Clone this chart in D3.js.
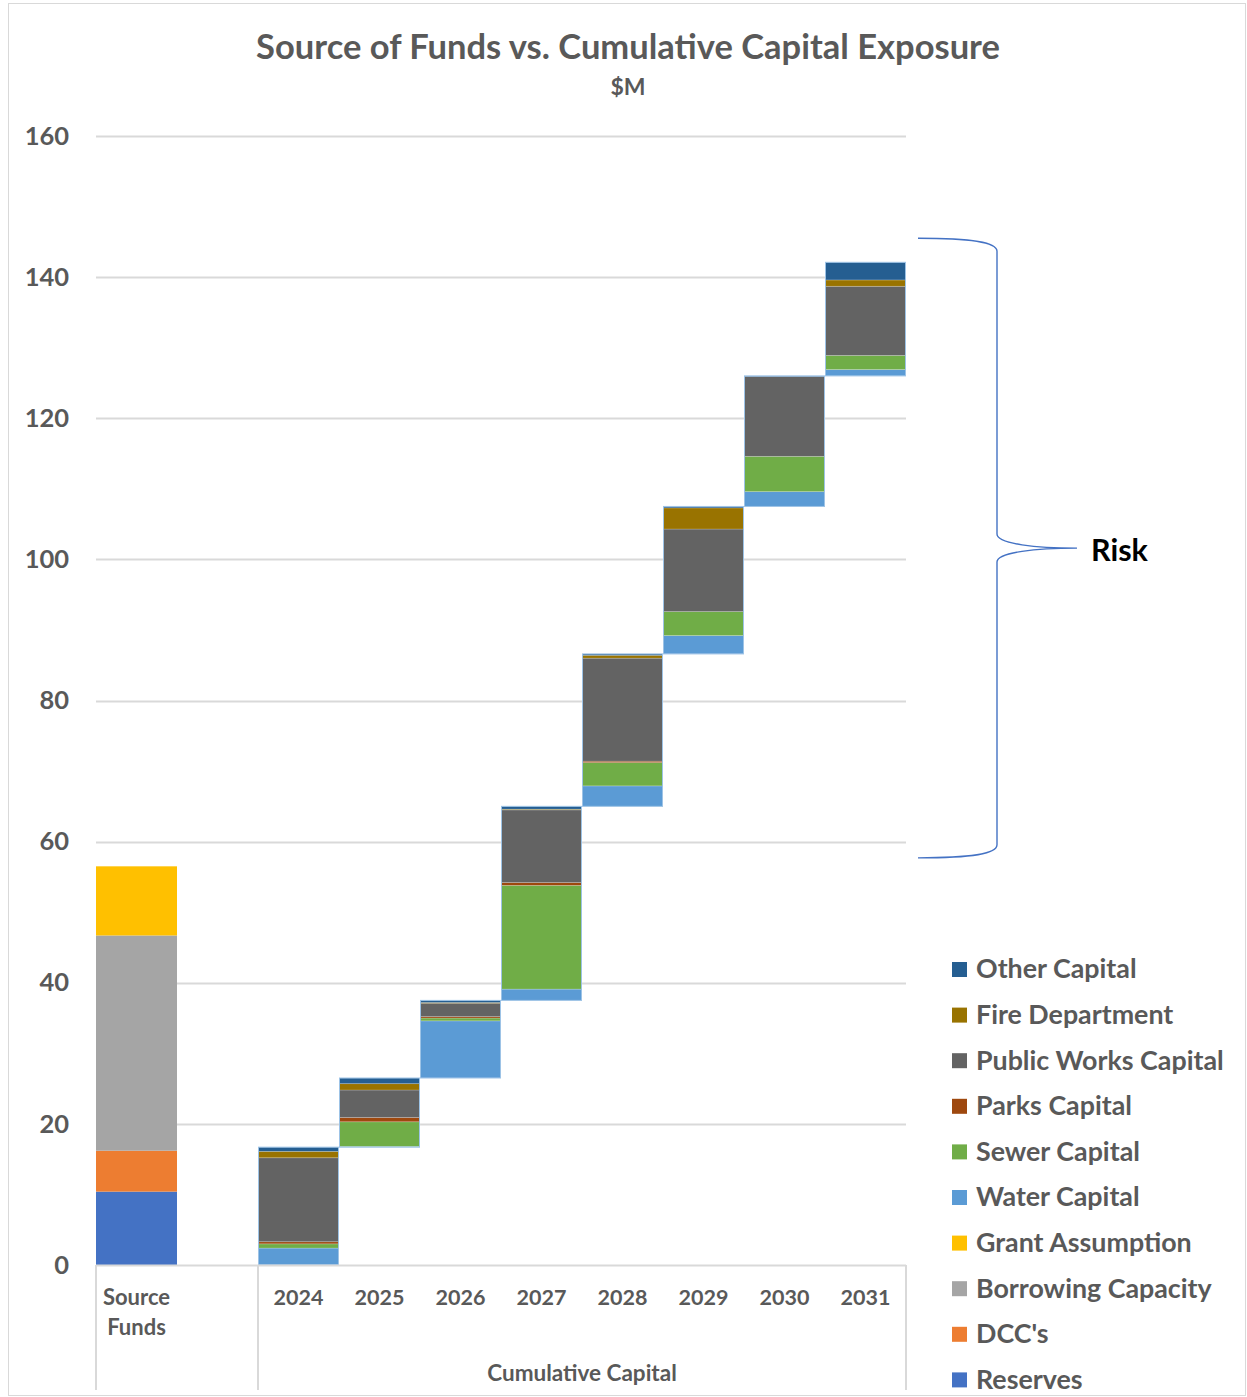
<!DOCTYPE html>
<html>
<head>
<meta charset="utf-8">
<script src="https://cdn.jsdelivr.net/npm/d3@7"></script>
<style>
  html, body { margin: 0; padding: 0; background: #fff; }
  svg { display: block; font-family: Lato, "Open Sans", sans-serif; }
</style>
</head>
<body>
<svg id="chart" width="1247" height="1397"></svg>
<script>
// Category slots along the x axis (the blank slot separates the two groups)
const categories = ["Source Funds", "", "2024", "2025", "2026", "2027", "2028", "2029", "2030", "2031"];
const years = ["2024", "2025", "2026", "2027", "2028", "2029", "2030", "2031"];

// Source of funds ($M), stacked bottom to top
const fundSeries = ["Reserves", "DCC's", "Borrowing Capacity", "Grant Assumption"];
const fundValues = [10.4, 5.8, 30.5, 9.8];

// Capital spending added in each year ($M), stacked bottom to top
const capitalSeries = ["Water Capital", "Sewer Capital", "Parks Capital", "Public Works Capital", "Fire Department", "Other Capital"];
const waterCapital       = [2.4, 0.1, 8.1, 1.6, 2.9, 2.6, 2.1, 0.9];
const sewerCapital       = [0.6, 3.5, 0.4, 14.7, 3.3, 3.4, 5.0, 2.0];
const parksCapital       = [0.3, 0.6, 0.2, 0.4, 0.2, 0.0, 0.0, 0.0];
const publicWorksCapital = [11.9, 3.9, 1.9, 10.3, 14.6, 11.7, 11.3, 9.8];
const fireDepartment     = [0.9, 0.9, 0.1, 0.1, 0.4, 3.0, 0.0, 0.9];
const otherCapital       = [0.6, 0.8, 0.3, 0.4, 0.2, 0.2, 0.1, 2.5];

const yTicks = [0, 20, 40, 60, 80, 100, 120, 140, 160];

// Legend order, top to bottom
const legendItems = ["Other Capital", "Fire Department", "Public Works Capital", "Parks Capital",
  "Sewer Capital", "Water Capital", "Grant Assumption", "Borrowing Capacity", "DCC's", "Reserves"];

const colors = {
  "Reserves": "#4472C4",
  "DCC's": "#ED7D31",
  "Borrowing Capacity": "#A5A5A5",
  "Grant Assumption": "#FFC000",
  "Water Capital": "#5B9BD5",
  "Sewer Capital": "#70AD47",
  "Parks Capital": "#9E480E",
  "Public Works Capital": "#636363",
  "Fire Department": "#997300",
  "Other Capital": "#255E91"
};

const textColor = "#595959";
const gridColor = "#D9D9D9";

const svg = d3.select("#chart");
const plot = { left: 96, right: 906, top: 136, bottom: 1265 };

const x = d3.scaleBand().domain(categories).range([plot.left, plot.right]).padding(0);
const y = d3.scaleLinear().domain([0, 160]).range([plot.bottom, plot.top]);

// outer chart frame
svg.append("rect")
  .attr("x", 8.5).attr("y", 3.5).attr("width", 1237).attr("height", 1392)
  .attr("fill", "none").attr("stroke", gridColor).attr("stroke-width", 1);

// title
svg.append("text")
  .attr("x", 628).attr("y", 59)
  .attr("text-anchor", "middle")
  .attr("font-size", 34.5).attr("font-weight", 700).attr("fill", textColor)
  .text("Source of Funds vs. Cumulative Capital Exposure");
svg.append("text")
  .attr("x", 628).attr("y", 95)
  .attr("text-anchor", "middle")
  .attr("font-size", 23).attr("font-weight", 700).attr("fill", textColor)
  .text("$M");

// horizontal gridlines
svg.append("g")
  .selectAll("line")
  .data(yTicks.filter(d => d > 0))
  .join("line")
  .attr("x1", plot.left).attr("x2", plot.right)
  .attr("y1", d => Math.round(y(d)) + 0.5).attr("y2", d => Math.round(y(d)) + 0.5)
  .attr("stroke", gridColor).attr("stroke-width", 2);

// y axis labels
const yAxis = d3.axisLeft(y).tickValues(yTicks).tickSize(0).tickPadding(0);
const yg = svg.append("g").attr("transform", `translate(${69},0)`).call(yAxis);
yg.select(".domain").remove();
yg.selectAll("text")
  .attr("font-size", 25.5).attr("font-weight", 700).attr("fill", textColor)
  .attr("font-family", "Lato, 'Open Sans', sans-serif");

// source of funds stack
const fundRow = {};
fundSeries.forEach((k, i) => fundRow[k] = fundValues[i]);
const fundStack = d3.stack().keys(fundSeries)([fundRow]);
svg.append("g")
  .selectAll("rect")
  .data(fundStack)
  .join("rect")
  .attr("x", x("Source Funds"))
  .attr("width", x.bandwidth())
  .attr("y", d => y(d[0][1]))
  .attr("height", d => y(d[0][0]) - y(d[0][1]))
  .attr("fill", d => colors[d.key]);

// capital waterfall: each year starts where the previous cumulative total ends
const capitalArrays = [waterCapital, sewerCapital, parksCapital, publicWorksCapital, fireDepartment, otherCapital];
let running = 0;
const capitalRows = years.map((yr, i) => {
  const row = { year: yr, base: running };
  capitalSeries.forEach((k, j) => row[k] = capitalArrays[j][i]);
  running += d3.sum(capitalArrays, a => a[i]);
  row.total = running;
  return row;
});

const capitalStack = d3.stack().keys(capitalSeries)(capitalRows);
const capG = svg.append("g");
capitalStack.forEach(series => {
  capG.append("g")
    .selectAll("rect")
    .data(series)
    .join("rect")
    .attr("x", d => x(d.data.year))
    .attr("width", x.bandwidth())
    .attr("y", d => y(d.data.base + d[1]))
    .attr("height", d => Math.max(0, y(d.data.base + d[0]) - y(d.data.base + d[1])))
    .attr("fill", colors[series.key])
    .attr("stroke", "rgba(255,255,255,0.25)")
    .attr("stroke-width", 0.8);
});

// light outline around each year's column
svg.append("g")
  .selectAll("rect")
  .data(capitalRows)
  .join("rect")
  .attr("x", d => x(d.year) + 0.5)
  .attr("width", x.bandwidth() - 1)
  .attr("y", d => y(d.total))
  .attr("height", d => y(d.base) - y(d.total))
  .attr("fill", "none")
  .attr("stroke", "#9DC3E6")
  .attr("stroke-width", 1);

// category axis: baseline and group dividers
const axisG = svg.append("g").attr("stroke", gridColor).attr("stroke-width", 2);
axisG.append("line")
  .attr("x1", plot.left).attr("x2", plot.right)
  .attr("y1", plot.bottom + 0.5).attr("y2", plot.bottom + 0.5);
[plot.left, x("2024"), plot.right].forEach(px => {
  axisG.append("line")
    .attr("x1", px).attr("x2", px)
    .attr("y1", plot.bottom).attr("y2", 1390);
});

// year labels
svg.append("g")
  .selectAll("text")
  .data(years)
  .join("text")
  .attr("x", d => x(d) + x.bandwidth() / 2)
  .attr("y", 1305)
  .attr("text-anchor", "middle")
  .attr("font-size", 21.5).attr("font-weight", 700).attr("fill", textColor)
  .text(d => d);

// "Source Funds" label on two lines
const sf = svg.append("text")
  .attr("x", x("Source Funds") + x.bandwidth() / 2)
  .attr("y", 1305)
  .attr("text-anchor", "middle")
  .attr("font-size", 22).attr("font-weight", 700).attr("fill", textColor);
sf.append("tspan").attr("x", x("Source Funds") + x.bandwidth() / 2).attr("dy", 0).text("Source");
sf.append("tspan").attr("x", x("Source Funds") + x.bandwidth() / 2).attr("dy", 30).text("Funds");

// group label
svg.append("text")
  .attr("x", (x("2024") + plot.right) / 2)
  .attr("y", 1381)
  .attr("text-anchor", "middle")
  .attr("font-size", 22.5).attr("font-weight", 700).attr("fill", textColor)
  .text("Cumulative Capital");

// risk brace spanning the gap between funding and cumulative capital
const bTop = y(145.5), bBot = y(57.7), bMid = y(101.6);
const bx0 = plot.right + 12, bx1 = 997, bTip = 1077;
const brace = d3.path();
brace.moveTo(bx0, bTop);
brace.bezierCurveTo(bx0 + 55, bTop, bx1, bTop + 4, bx1, bTop + 13);
brace.lineTo(bx1, bMid - 14);
brace.bezierCurveTo(bx1, bMid - 4, bx1 + 40, bMid, bTip, bMid);
brace.moveTo(bTip, bMid);
brace.bezierCurveTo(bx1 + 40, bMid, bx1, bMid + 4, bx1, bMid + 14);
brace.lineTo(bx1, bBot - 13);
brace.bezierCurveTo(bx1, bBot - 4, bx0 + 55, bBot, bx0, bBot);
svg.append("path")
  .attr("d", brace.toString())
  .attr("fill", "none")
  .attr("stroke", "#4472C4")
  .attr("stroke-width", 1.4);

svg.append("text")
  .attr("x", 1091).attr("y", 561)
  .attr("font-size", 30.5).attr("font-weight", 700).attr("fill", "#000")
  .text("Risk");

// legend
const legend = svg.append("g")
  .selectAll("g")
  .data(legendItems)
  .join("g")
  .attr("transform", (d, i) => `translate(952, ${969 + i * 45.6})`);
legend.append("rect")
  .attr("x", 0).attr("y", -7).attr("width", 15).attr("height", 15)
  .attr("fill", d => colors[d]);
legend.append("text")
  .attr("x", 24).attr("y", 0)
  .attr("dy", "0.35em")
  .attr("font-size", 26.8).attr("font-weight", 700).attr("fill", textColor)
  .text(d => d);
</script>
</body>
</html>
